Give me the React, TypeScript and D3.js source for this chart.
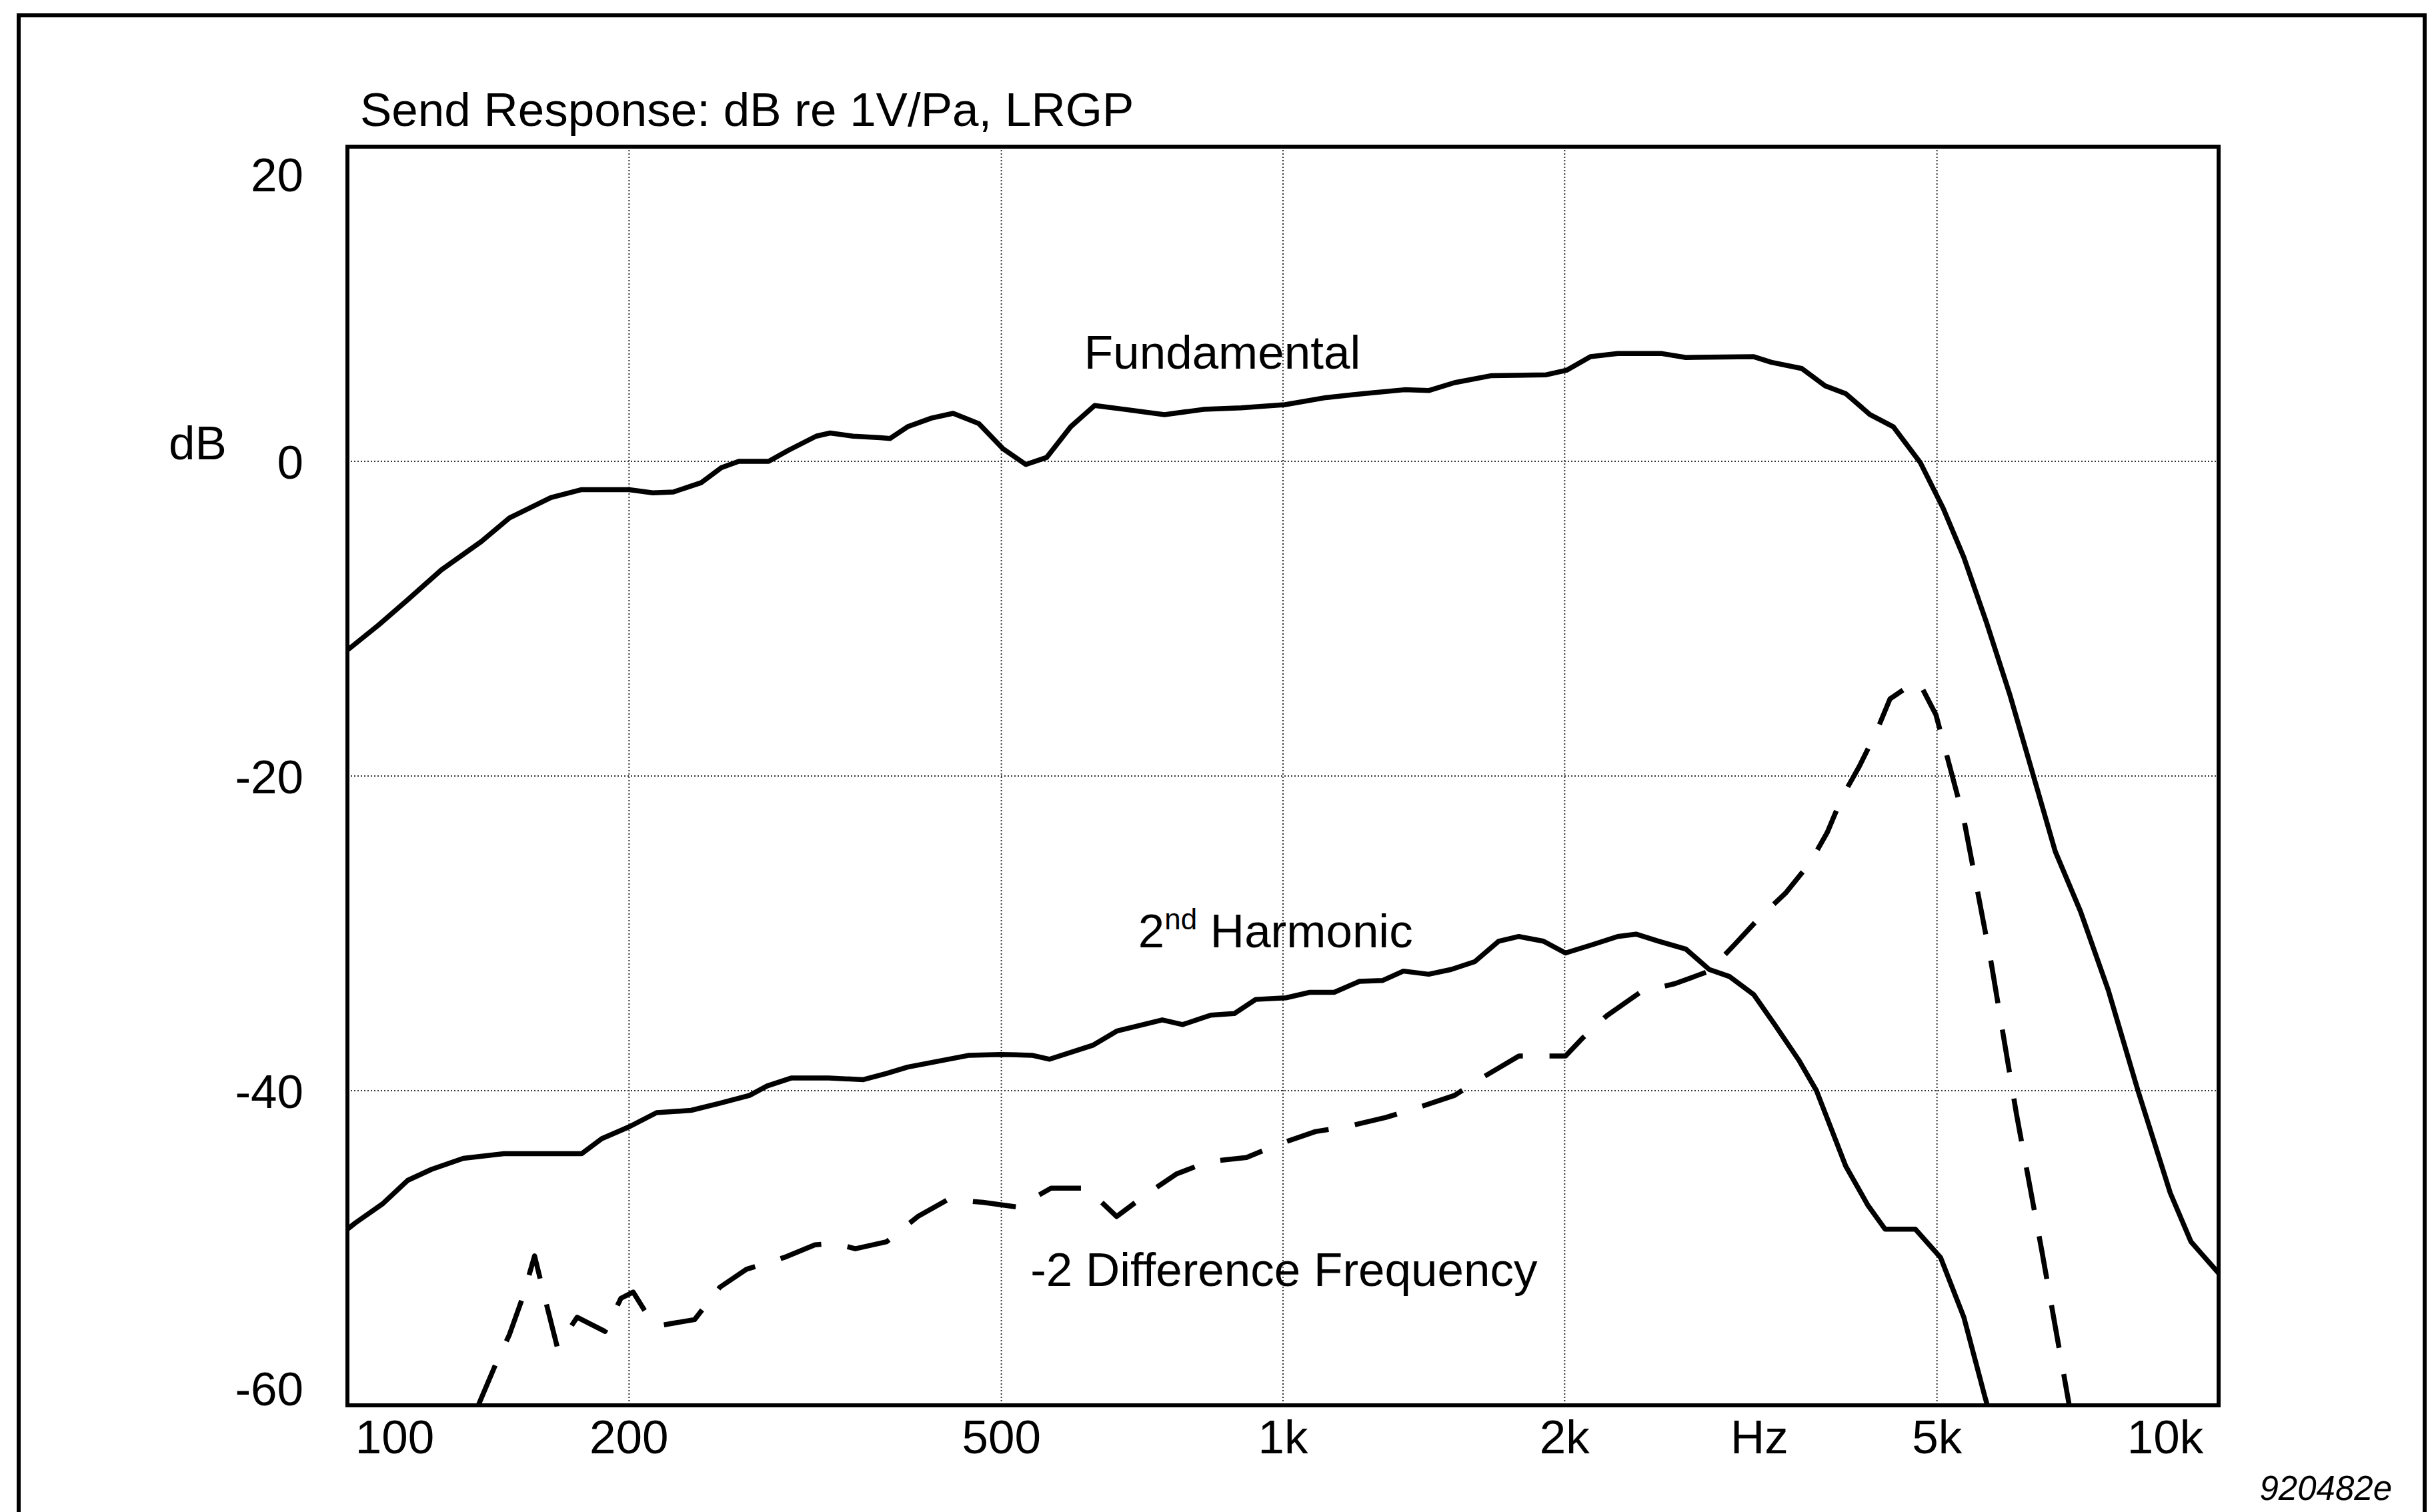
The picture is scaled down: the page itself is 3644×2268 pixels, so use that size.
import React from "react";
import * as d3 from "d3";

// ---------- data ----------
const fundamental: [number, number][] = [
  [100, -12.0], [108, -10.4], [116, -8.8], [126, -6.9], [139, -5.1], [149, -3.6],
  [165, -2.3], [178, -1.8], [200, -1.8], [212, -2.0], [223, -1.95], [239, -1.35],
  [251, -0.4], [262, 0], [282, 0], [296, 0.7], [317, 1.6], [328, 1.8], [347, 1.6],
  [371, 1.5], [380, 1.45], [397, 2.2], [421, 2.75], [444, 3.05], [473, 2.4],
  [502, 0.8], [531, -0.2], [559, 0.25], [593, 2.2], [629, 3.55], [678, 3.3],
  [747, 2.97], [822, 3.3], [902, 3.4], [1005, 3.6], [1111, 4.05], [1218, 4.3],
  [1348, 4.55], [1431, 4.5], [1525, 5.0], [1671, 5.45], [1912, 5.5], [2012, 5.8],
  [2131, 6.65], [2279, 6.85], [2541, 6.85], [2695, 6.6], [3186, 6.65], [3325, 6.3],
  [3585, 5.9], [3797, 4.8], [3995, 4.3], [4240, 2.97], [4490, 2.2], [4801, -0.1],
  [5076, -2.97], [5342, -6.1], [5649, -10.25], [5980, -14.8], [6326, -19.8],
  [6690, -24.8], [7118, -28.6], [7621, -33.6], [8200, -40], [8878, -46.5],
  [9342, -49.6], [10000, -51.6],
];

const secondHarmonic: [number, number][] = [
  [100, -48.8], [102, -48.4], [109, -47.2], [116, -45.7], [123, -45.0], [133, -44.3],
  [147, -44.0], [178, -44.0], [187, -43.05], [200, -42.3], [214, -41.4], [233, -41.25],
  [250, -40.8], [269, -40.3], [281, -39.7], [298, -39.2], [327, -39.2], [356, -39.3],
  [377, -38.9], [397, -38.5], [462, -37.75], [499, -37.7], [539, -37.75], [563, -38.0],
  [627, -37.1], [665, -36.2], [743, -35.5], [781, -35.8], [837, -35.2], [887, -35.1],
  [935, -34.2], [1007, -34.1], [1068, -33.75], [1134, -33.75], [1207, -33.05],
  [1277, -33.0], [1345, -32.4], [1431, -32.6], [1512, -32.3], [1603, -31.8],
  [1700, -30.5], [1787, -30.2], [1898, -30.5], [2004, -31.25], [2147, -30.7],
  [2279, -30.2], [2384, -30.05], [2521, -30.5], [2695, -31.0], [2855, -32.3],
  [3002, -32.75], [3186, -33.9], [3354, -35.8], [3558, -38.05], [3717, -40.0],
  [3995, -44.8], [4220, -47.3], [4400, -48.8], [4741, -48.8], [5044, -50.6],
  [5342, -54.4], [5623, -59.4], [5660, -60],
];

const differenceFreq: [number, number][] = [
  [138, -60], [144, -57.4], [149, -55.5], [154, -53.1], [158.5, -50.5], [163, -53.45],
  [167.6, -56.3], [176, -54.4], [188.5, -55.3], [196, -53.2], [202, -52.8], [212, -54.8],
  [217, -54.9], [235, -54.55], [250, -52.5], [267, -51.35], [293, -50.6], [316, -49.8],
  [332, -49.7], [349, -50.05], [377, -49.6], [407, -48.0], [439, -46.9], [478, -47.1],
  [520, -47.4], [565, -46.2], [617, -46.2], [664, -48.0], [712, -46.65], [769, -45.3],
  [833, -44.5], [914, -44.25], [990, -43.4], [1083, -42.6], [1167, -42.3], [1288, -41.7],
  [1390, -41.1], [1525, -40.3], [1630, -39.2], [1787, -37.8], [2004, -37.8],
  [2091, -36.65], [2217, -35.25], [2415, -33.7], [2623, -33.2], [2855, -32.4],
  [3040, -30.7], [3243, -28.9], [3444, -27.45], [3660, -25.5], [3816, -23.6],
  [3962, -21.3], [4129, -19.4], [4307, -17.2], [4454, -15.1], [4741, -14.0],
  [4800, -14.2], [4987, -16.1], [5342, -22.75], [5715, -31.9], [6081, -41.5],
  [6473, -50.2], [6924, -60],
];

const xTickValues = [100, 200, 500, 1000, 2000, 5000, 10000];
const xTickLabels = ["100", "200", "500", "1k", "2k", "5k", "10k"];
const xGridValues = [200, 500, 1000, 2000, 5000];
const yTickValues = [20, 0, -20, -40, -60];
const yTickLabels = ["20", "0", "-20", "-40", "-60"];
const yGridValues = [0, -20, -40];

const titleText = "Send Response: dB re 1V/Pa, LRGP";
const yUnitText = "dB";
const xUnitText = "Hz";
const figureCode = "920482e";
const seriesLabels = [
  { text: "Fundamental", sup: "", rest: "", f: 613, db: 5.9 },
  { text: "2", sup: "nd", rest: " Harmonic", f: 700, db: -30.9 },
  { text: "-2 Difference Frequency", sup: "", rest: "", f: 537, db: -52.4 },
];

// ---------- layout ----------
const W = 3644;
const H = 2268;
const left = 521;
const right = 3327;
const top = 220;
const bottom = 2108;
const FONT = "'Liberation Sans', Arial, Helvetica, sans-serif";
const FS = 71;

export default function App() {
  const x = d3.scaleLog().domain([100, 10000]).range([left, right]);
  const y = d3.scaleLinear().domain([-60, 20]).range([bottom, top]);
  const line = d3
    .line<[number, number]>()
    .x((d) => x(d[0]))
    .y((d) => y(d[1]))
    .curve(d3.curveLinear);

  const clamp = (v: number, a: number, b: number) => Math.max(a, Math.min(b, v));

  return (
    <svg
      width={W}
      height={H}
      viewBox={`0 0 ${W} ${H}`}
      style={{ position: "absolute", left: 0, top: 0, background: "#fff" }}
      fontFamily={FONT}
    >
      <rect x={0} y={0} width={W} height={H} fill="#fff" />
      <defs>
        <clipPath id="plotClip">
          <rect x={left} y={top} width={right - left} height={bottom - top} />
        </clipPath>
      </defs>

      {/* outer frame (open at the bottom) */}
      <path
        d={`M28,${H} V23 H3636 V${H}`}
        fill="none"
        stroke="#000"
        strokeWidth={6}
      />

      {/* grid */}
      {xGridValues.map((v) => (
        <line
          key={"gx" + v}
          x1={x(v)}
          x2={x(v)}
          y1={top}
          y2={bottom}
          stroke="#333"
          strokeWidth={2}
          strokeDasharray="2 3"
        />
      ))}
      {yGridValues.map((v) => (
        <line
          key={"gy" + v}
          x1={left}
          x2={right}
          y1={y(v)}
          y2={y(v)}
          stroke="#333"
          strokeWidth={2}
          strokeDasharray="2 3"
        />
      ))}

      {/* curves */}
      <g clipPath="url(#plotClip)" fill="none" stroke="#000" strokeLinejoin="round">
        <path d={line(fundamental) || ""} strokeWidth={7.5} />
        <path d={line(secondHarmonic) || ""} strokeWidth={7.5} />
        <path
          d={line(differenceFreq) || ""}
          strokeWidth={7.5}
          strokeDasharray="65 40"
          strokeLinecap="butt"
        />
      </g>

      {/* plot frame */}
      <rect
        x={left}
        y={top}
        width={right - left}
        height={bottom - top}
        fill="none"
        stroke="#000"
        strokeWidth={6}
      />

      {/* title */}
      <text x={left + 19} y={top - 31} fontSize={FS} fill="#000">
        {titleText}
      </text>

      {/* y tick labels */}
      {yTickValues.map((v, i) => (
        <text
          key={"yt" + v}
          x={455}
          y={clamp(y(v), top + 41, bottom - 26)}
          dy="0.36em"
          textAnchor="end"
          fontSize={FS}
          fill="#000"
        >
          {yTickLabels[i]}
        </text>
      ))}
      <text x={253} y={689} fontSize={FS} fill="#000">
        {yUnitText}
      </text>

      {/* x tick labels */}
      {xTickValues.map((v, i) => (
        <text
          key={"xt" + v}
          x={clamp(x(v), left + 71, right - 80)}
          y={2180}
          textAnchor="middle"
          fontSize={FS}
          fill="#000"
        >
          {xTickLabels[i]}
        </text>
      ))}
      <text x={x(3230)} y={2180} textAnchor="middle" fontSize={FS} fill="#000">
        {xUnitText}
      </text>

      {/* series labels */}
      {seriesLabels.map((s) => (
        <text key={s.text} x={x(s.f)} y={y(s.db)} fontSize={FS} fill="#000">
          {s.text}
          {s.sup ? (
            <tspan fontSize={44} dy={-27}>
              {s.sup}
            </tspan>
          ) : null}
          {s.rest ? <tspan dy={s.sup ? 27 : 0}>{s.rest}</tspan> : null}
        </text>
      ))}

      {/* figure code */}
      <text
        x={3587}
        y={2250}
        textAnchor="end"
        fontSize={51}
        fontStyle="italic"
        fill="#000"
      >
        {figureCode}
      </text>
    </svg>
  );
}
